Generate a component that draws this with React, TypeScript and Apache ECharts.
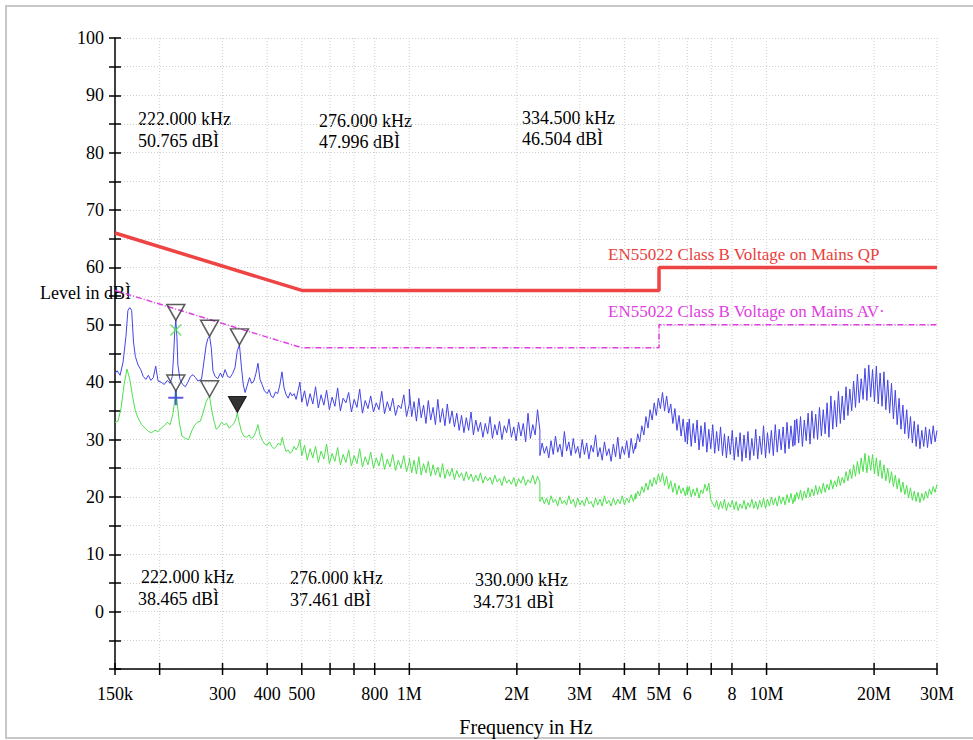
import React, { useEffect, useRef } from "react";
import * as echarts from "echarts";

// ---------- axis ticks ----------
const xTickValues = [150e3, 200e3, 300e3, 400e3, 500e3, 600e3, 700e3, 800e3, 1e6, 2e6, 3e6, 4e6, 5e6, 6e6, 7e6, 8e6, 10e6, 20e6, 30e6];
const xTickLabels = ["150k", "", "300", "400", "500", "", "", "800", "1M", "2M", "3M", "4M", "5M", "6", "", "8", "10M", "20M", "30M"];

// ---------- limit lines ----------
const qpFreq = [150e3, 500e3, 5e6, 5e6, 30e6];
const qpLevel = [66, 56, 56, 60, 60];
const avFreq = [150e3, 500e3, 5e6, 5e6, 30e6];
const avLevel = [56, 46, 46, 50, 50];

// ---------- measured traces: low band [kHz, dB] ----------
const blueLow = [
  [150, 41.5], [152, 42.0], [155, 41.2], [158, 43.5], [161, 48], [163, 52.5], [165, 53.0], [167, 52.5], [169, 47], [171, 44.5],
  [174, 43.0], [177, 42.2], [180, 41.0], [183, 40.5], [186, 41.2], [189, 40.3], [192, 40.8], [195, 42.8], [198, 40.2], [202, 40.0],
  [206, 39.6], [210, 40.3], [214, 39.8], [217, 41.0], [219, 45], [220.5, 49], [222, 50.8], [223.5, 48], [225, 43], [228, 40.5],
  [232, 39.6], [236, 39.2], [240, 40.0], [244, 41.0], [248, 41.3], [252, 40.8], [256, 40.2], [262, 40.5], [266, 43.5], [270, 46.5],
  [273, 47.6], [276, 48.0], [279, 46], [282, 42], [286, 41.0], [291, 40.6], [296, 41.6], [300, 40.8], [305, 42.2], [310, 41.0],
  [315, 40.8], [320, 41.5], [325, 42.5], [330, 45.5], [334.5, 46.5], [339, 42.5], [343, 39.5], [347, 38.2], [352, 39.5], [357, 40.8],
  [362, 39.8], [367, 40.2], [372, 41.5], [377, 43.3], [382, 40.5], [387, 39.6], [393, 38.5], [400, 38.0], [405, 38.7], [410, 37.6],
  [416, 37.3], [422, 38.3], [428, 38.0], [434, 39.5], [440, 41.8], [446, 39.0], [452, 37.8], [458, 37.2], [464, 38.2], [470, 37.6],
  [476, 38.0], [482, 37.0], [488, 38.5], [494, 40.0]
];
const greenLow = [
  [150, 33.0], [153, 33.2], [156, 35.5], [159, 39.5], [162, 42.3], [165, 40.5], [168, 37.5], [171, 35.0], [174, 33.8], [178, 32.6],
  [182, 32.0], [186, 31.4], [190, 31.2], [194, 31.6], [198, 31.4], [202, 32.0], [206, 32.4], [210, 33.0], [214, 32.6], [218, 34.5],
  [220.5, 37.0], [222, 38.5], [224, 36.5], [227, 33.0], [231, 30.6], [236, 30.2], [241, 30.0], [246, 31.5], [250, 32.4], [255, 33.0],
  [260, 33.2], [265, 34.8], [270, 36.6], [273, 37.2], [276, 37.5], [280, 35.0], [284, 33.2], [288, 31.8], [293, 32.2], [298, 33.0],
  [303, 32.6], [308, 32.8], [313, 32.0], [318, 32.4], [323, 32.8], [327, 33.6], [330, 34.7], [334, 33.0], [339, 31.4], [344, 30.6],
  [350, 30.4], [356, 30.8], [361, 30.2], [366, 30.4], [371, 31.2], [377, 32.6], [382, 30.8], [388, 29.8], [394, 29.2], [400, 29.0],
  [406, 29.6], [412, 28.8], [418, 28.4], [424, 28.8], [430, 29.4], [436, 29.0], [441, 30.4], [446, 29.0], [452, 27.9], [458, 28.2],
  [464, 27.6], [470, 28.0], [476, 28.8], [482, 28.2], [488, 28.8], [494, 30.0]
];

// ---------- measured traces: swept band, sweep edges in Hz ----------
const sweepEdges = [500e3, 1e6, 2.32e6, 4.3e6, 6e6, 12e6, 30e6];

const blueA = [36.5, 38.5, 35.8, 38.0, 36.2, 39.2, 35.5, 37.8, 36.0, 38.6, 35.2, 37.4, 35.8, 39.0, 35.0, 37.2, 36.4, 38.2, 34.8, 37.0, 35.6, 38.8, 34.6, 36.8, 35.4, 37.6, 34.8, 36.4, 35.2, 38.4, 34.5, 36.6, 35.0, 37.2, 34.2, 36.0, 35.4, 37.8, 34.0, 36.2];
const blueB = [38.8, 34.0, 36.6, 33.2, 37.2, 33.8, 36.0, 32.8, 36.8, 33.4, 35.6, 32.6, 37.0, 33.0, 35.4, 32.4, 36.2, 32.8, 35.0, 32.2, 34.6, 31.6, 34.2, 31.2, 33.8, 31.6, 34.8, 30.8, 33.4, 31.4, 33.0, 30.4, 32.8, 31.0, 34.0, 30.2, 32.6, 30.8, 33.2, 30.0, 32.4, 31.2, 33.6, 30.4, 32.2, 29.8, 33.0, 30.6, 32.8, 29.6, 34.6, 30.2, 32.6, 30.8, 35.2, 31.6];
const blueC = [27.2, 29.4, 27.6, 28.8, 26.8, 29.8, 27.4, 30.6, 27.8, 29.2, 27.0, 31.4, 28.0, 29.6, 27.2, 30.2, 27.6, 28.8, 26.8, 30.0, 27.4, 29.4, 26.6, 29.0, 27.8, 30.8, 27.0, 28.6, 26.4, 29.6, 27.2, 28.4, 26.2, 29.2, 27.0, 30.4, 26.6, 28.8, 27.4, 29.8, 26.8, 30.2, 27.6, 29.4];
const blueD = [28.4, 31.0, 29.6, 32.4, 30.8, 34.0, 32.0, 35.2, 33.4, 36.4, 34.2, 37.2, 35.4, 38.2, 35.0, 37.6, 34.6, 36.2, 32.8, 35.4, 31.6, 34.2, 30.6, 33.6, 29.6, 33.0];
const blueE = [29.2, 33.6, 28.8, 32.8, 29.4, 33.4, 28.2, 32.4, 28.8, 33.0, 27.8, 31.8, 28.4, 32.6, 27.6, 31.4, 28.0, 32.2, 27.2, 31.0, 26.8, 30.6, 27.4, 31.6, 26.4, 30.4, 27.0, 31.2, 26.2, 30.8, 26.8, 31.4, 26.4, 30.2, 27.2, 31.8, 26.6, 30.6, 27.4, 32.4, 26.8, 31.2, 27.6, 31.6, 27.2, 32.6, 27.8, 31.8, 28.2, 32.2, 27.6, 33.0, 28.4, 32.4, 28.8, 33.4];
const blueF = [29.0, 33.6, 29.4, 34.0, 28.8, 33.4, 29.8, 34.6, 29.2, 35.0, 30.2, 34.4, 30.0, 35.6, 30.6, 35.2, 31.0, 36.4, 30.4, 37.6, 31.8, 36.8, 32.2, 38.4, 32.8, 37.6, 33.4, 39.2, 34.2, 38.8, 35.0, 40.2, 35.6, 41.4, 36.4, 40.6, 37.0, 42.4, 36.8, 43.0, 37.4, 42.2, 36.6, 42.8, 36.2, 41.6, 35.8, 41.8, 35.2, 40.4, 34.6, 39.8, 33.6, 38.6, 32.6, 37.2, 31.8, 36.0, 31.0, 35.2, 30.2, 34.0, 29.4, 33.2, 28.8, 32.6, 28.4, 31.6, 28.8, 32.2, 28.6, 31.8, 29.2, 32.4, 29.6, 31.6];

const greenA = [27.2, 29.0, 26.4, 28.4, 26.8, 28.8, 26.0, 28.0, 26.6, 29.2, 25.8, 27.6, 26.2, 28.6, 25.6, 27.4, 26.0, 28.2, 25.4, 27.2, 25.8, 28.4, 25.2, 27.0, 25.6, 27.8, 25.0, 26.8, 25.4, 27.6, 24.8, 26.6, 25.2, 27.4, 24.6, 26.4, 25.0, 27.2, 24.4, 26.2];
const greenB = [26.8, 24.2, 26.4, 24.0, 27.0, 23.8, 25.8, 24.2, 26.2, 23.6, 25.6, 23.8, 25.2, 23.4, 25.8, 23.2, 24.8, 23.6, 25.0, 23.0, 24.6, 23.4, 24.2, 22.8, 24.4, 23.0, 24.0, 22.6, 23.8, 22.8, 24.2, 22.4, 23.6, 22.8, 23.4, 22.2, 23.8, 22.6, 23.2, 22.0, 23.6, 22.4, 23.0, 22.2, 23.4, 21.8, 23.2, 22.4, 23.6, 22.0, 23.0, 22.4, 23.8, 22.2, 23.6, 22.6];
const greenC = [19.2, 20.0, 18.8, 19.8, 18.6, 20.2, 19.0, 19.6, 18.4, 20.0, 18.8, 19.4, 18.6, 20.2, 18.8, 19.6, 18.2, 19.8, 18.6, 19.4, 18.4, 20.0, 18.8, 19.2, 18.2, 19.8, 18.6, 19.6, 18.4, 20.2, 18.8, 19.4, 18.4, 19.8, 18.6, 19.6, 18.8, 20.2, 18.6, 19.8, 19.0, 20.4, 19.2, 20.6];
const greenD = [19.6, 21.0, 20.2, 21.8, 20.8, 22.4, 21.2, 23.0, 21.8, 23.4, 22.2, 24.0, 22.6, 24.2, 22.0, 23.6, 21.4, 22.8, 20.8, 22.4, 20.4, 22.0, 20.6, 21.6, 20.2, 21.8];
const greenE = [20.4, 21.8, 20.0, 21.4, 20.2, 21.6, 19.8, 21.2, 20.6, 22.2, 21.0, 22.4, 19.6, 18.8, 18.2, 19.4, 17.8, 19.2, 18.0, 19.6, 17.6, 19.0, 18.2, 19.4, 17.8, 19.2, 17.6, 18.8, 18.0, 19.4, 17.8, 19.0, 18.2, 19.6, 18.0, 19.2, 17.8, 19.4, 18.2, 19.8, 18.0, 19.6, 18.4, 20.0, 18.6, 19.8, 18.4, 20.2, 18.8, 20.0, 18.6, 20.4, 19.0, 20.6, 18.8, 20.4];
const greenF = [19.2, 20.8, 19.6, 21.2, 19.4, 21.0, 19.8, 21.6, 20.0, 21.4, 20.2, 22.0, 20.4, 21.8, 20.6, 22.4, 20.8, 22.2, 21.2, 23.0, 21.4, 22.8, 21.8, 23.6, 22.0, 23.4, 22.4, 24.4, 22.8, 24.8, 23.2, 25.6, 23.6, 26.2, 24.0, 26.8, 24.4, 27.6, 24.2, 27.2, 24.6, 27.4, 24.0, 26.8, 23.6, 26.4, 23.2, 25.6, 22.8, 25.0, 22.4, 24.4, 21.8, 23.8, 21.4, 23.2, 20.8, 22.6, 20.4, 22.0, 19.8, 21.6, 19.4, 21.0, 19.2, 20.8, 19.0, 20.6, 19.4, 21.0, 19.8, 21.4, 20.4, 21.8, 20.8, 22.2];

// ---------- markers ----------
const qpMarkFreq = [222e3, 276e3, 334.5e3];
const qpMarkLevel = [50.765, 47.996, 46.504];
const avMarkFreq = [222e3, 276e3];
const avMarkLevel = [38.465, 37.461];
const avActiveFreq = [330e3];
const avActiveLevel = [34.731];
const crossFreq = [222e3];
const crossGreenLevel = [49.1];
const crossBlueLevel = [37.3];

// ---------- annotation texts ----------
const topNotes = [
  ["222.000 kHz", "50.765 dBÌ"],
  ["276.000 kHz", "47.996 dBÌ"],
  ["334.500 kHz", "46.504 dBÌ"]
];
const bottomNotes = [
  ["222.000 kHz", "38.465 dBÌ"],
  ["276.000 kHz", "37.461 dBÌ"],
  ["330.000 kHz", "34.731 dBÌ"]
];

const FONT = "'Liberation Serif', 'Times New Roman', serif";

function buildTrace(low: number[][], segs: number[][]) {
  const pts: number[][] = low.map(([k, v]) => [k * 1e3, v]);
  segs.forEach((vals, s) => {
    const f0 = sweepEdges[s];
    const f1 = sweepEdges[s + 1];
    const n = vals.length;
    vals.forEach((v, i) => {
      pts.push([f0 * Math.pow(f1 / f0, i / (n - 1)), v]);
    });
  });
  return pts;
}

const zip = (a: number[], b: number[]) => a.map((v, i) => [v, b[i]]);

export default function App() {
  const ref = useRef<HTMLDivElement>(null);

  useEffect(() => {
    document.body.style.margin = "0";
    if (!ref.current) return;
    const chart = echarts.init(ref.current, undefined, { renderer: "svg" });

    const blue = buildTrace(blueLow, [blueA, blueB, blueC, blueD, blueE, blueF]);
    const green = buildTrace(greenLow, [greenA, greenB, greenC, greenD, greenE, greenF]);

    const textStyle = (t: string, fill = "#000", size = 18) => ({
      text: t,
      fill,
      fontSize: size,
      fontFamily: FONT,
      verticalAlign: "middle",
      align: "left"
    });

    const noteGraphics: any[] = [];
    const topPos = [[138, 119, 141], [319, 121, 142], [522, 118, 139]];
    topNotes.forEach((n, i) => {
      const [x, y1, y2] = topPos[i];
      noteGraphics.push({ type: "text", x, y: y1, style: textStyle(n[0]) });
      noteGraphics.push({ type: "text", x, y: y2, style: textStyle(n[1]) });
    });
    const botPos = [[141, 138, 577, 599], [290, 290, 578, 600], [475, 473, 580, 602]];
    bottomNotes.forEach((n, i) => {
      const [x1, x2, y1, y2] = botPos[i];
      noteGraphics.push({ type: "text", x: x1, y: y1, style: textStyle(n[0]) });
      noteGraphics.push({ type: "text", x: x2, y: y2, style: textStyle(n[1]) });
    });

    const option: any = {
      animation: false,
      backgroundColor: "#fff",
      grid: { left: 115, right: 36, top: 38, bottom: 71, outerBoundsMode: "none", containLabel: false },
      xAxis: {
        type: "log",
        logBase: 10,
        min: 150e3,
        max: 30e6,
        name: "Frequency in Hz",
        nameLocation: "middle",
        nameGap: 48,
        nameTextStyle: { fontFamily: FONT, fontSize: 20, color: "#000" },
        axisLine: { show: true, onZero: false, lineStyle: { color: "#000", width: 1.5 } },
        axisTick: { show: false },
        axisLabel: { show: false },
        splitLine: { show: false },
        minorTick: { show: false },
        minorSplitLine: { show: false }
      },
      yAxis: [
        {
          type: "value",
          min: -10,
          max: 100,
          interval: 5,
          axisLine: { show: true, onZero: false, lineStyle: { color: "#000", width: 1.5 } },
          axisTick: { show: true, length: 6, lineStyle: { color: "#000", width: 1.5 } },
          axisLabel: {
            margin: 11,
            fontFamily: FONT,
            fontSize: 18,
            color: "#000",
            formatter: (v: number) => (v >= 0 && v % 10 === 0 ? String(v) : "")
          },
          splitLine: { show: true, lineStyle: { color: "#cfcfcf", width: 1, type: [1, 2] } }
        },
        {
          type: "value",
          min: -10,
          max: 100,
          interval: 5,
          position: "left",
          axisLine: { show: false, onZero: false },
          axisTick: { show: true, inside: true, length: 6, lineStyle: { color: "#000", width: 1.5 } },
          axisLabel: { show: false },
          splitLine: { show: false }
        }
      ],
      graphic: [
        {
          type: "rect",
          shape: { x: 6, y: 6, width: 1000, height: 732 },
          style: { fill: "none", stroke: "#c8c8c8", lineWidth: 2 },
          silent: true
        },
        { type: "text", x: 40, y: 293, style: textStyle("Level in dBÌ") },
        { type: "text", x: 608, y: 254, style: textStyle("EN55022 Class B Voltage on Mains QP", "#e8403c", 17) },
        { type: "text", x: 608, y: 311, style: textStyle("EN55022 Class B Voltage on Mains AV·", "#e040e0", 17) },
        ...noteGraphics
      ],
      series: [
        {
          type: "custom",
          name: "xticks",
          silent: true,
          clip: false,
          z: 1,
          data: xTickValues.map((v) => [v, -10]),
          encode: { x: 0, y: 1 },
          renderItem: (params: any, api: any) => {
            const f = api.value(0);
            const i = params.dataIndex;
            const top = api.coord([f, 100]);
            const bot = api.coord([f, -10]);
            const children: any[] = [];
            if (i > 0) {
              children.push({
                type: "line",
                shape: { x1: bot[0], y1: bot[1], x2: top[0], y2: top[1] },
                style: { stroke: "#cfcfcf", lineWidth: 1, lineDash: [1, 2] }
              });
            }
            children.push({
              type: "line",
              shape: { x1: bot[0], y1: bot[1] - 6, x2: bot[0], y2: bot[1] + 6 },
              style: { stroke: "#000", lineWidth: 1.5 }
            });
            children.push({
              type: "text",
              x: bot[0],
              y: bot[1] + 25,
              style: {
                text: xTickLabels[i],
                fill: "#000",
                fontSize: 18,
                fontFamily: FONT,
                align: "center",
                verticalAlign: "middle"
              }
            });
            return { type: "group", children };
          }
        },
        {
          type: "line",
          name: "AV limit",
          data: zip(avFreq, avLevel),
          showSymbol: false,
          symbol: "none",
          z: 3,
          lineStyle: { color: "#e040e0", width: 1.5, type: [6, 2, 1, 2] }
        },
        {
          type: "line",
          name: "QP limit",
          data: zip(qpFreq, qpLevel),
          showSymbol: false,
          symbol: "none",
          z: 3,
          lineStyle: { color: "#ee4444", width: 3.5 }
        },
        {
          type: "line",
          name: "AV trace",
          data: green,
          showSymbol: false,
          symbol: "none",
          z: 4,
          lineStyle: { color: "#4ee04e", width: 1 }
        },
        {
          type: "line",
          name: "Peak trace",
          data: blue,
          showSymbol: false,
          symbol: "none",
          z: 4,
          lineStyle: { color: "#4444e6", width: 1 }
        },
        {
          type: "scatter",
          name: "QP marks",
          data: zip(qpMarkFreq, qpMarkLevel),
          symbol: "path://M0,0L20,0L10,18Z",
          symbolSize: [18, 16],
          symbolOffset: [0, -8],
          z: 6,
          itemStyle: { color: "rgba(255,255,255,0)", borderColor: "#333", borderWidth: 1.5 }
        },
        {
          type: "scatter",
          name: "AV marks",
          data: zip(avMarkFreq, avMarkLevel),
          symbol: "path://M0,0L20,0L10,18Z",
          symbolSize: [18, 16],
          symbolOffset: [0, -8],
          z: 6,
          itemStyle: { color: "rgba(255,255,255,0)", borderColor: "#333", borderWidth: 1.5 }
        },
        {
          type: "scatter",
          name: "AV active mark",
          data: zip(avActiveFreq, avActiveLevel),
          symbol: "path://M0,0L20,0L10,18Z",
          symbolSize: [18, 16],
          symbolOffset: [0, -8],
          z: 6,
          itemStyle: { color: "#000", borderColor: "#000", borderWidth: 1 }
        },
        {
          type: "scatter",
          name: "green cross",
          data: zip(crossFreq, crossGreenLevel),
          symbol: "path://M0,0L10,10M10,0L0,10",
          symbolSize: 11,
          z: 5,
          itemStyle: { color: "rgba(0,0,0,0)", borderColor: "#4ee04e", borderWidth: 1.5 }
        },
        {
          type: "scatter",
          name: "blue plus",
          data: zip(crossFreq, crossBlueLevel),
          symbol: "path://M5,0L5,10M0,5L10,5",
          symbolSize: 15,
          z: 5,
          itemStyle: { color: "rgba(0,0,0,0)", borderColor: "#3030e0", borderWidth: 2 }
        }
      ]
    };

    chart.setOption(option);
    return () => chart.dispose();
  }, []);

  return <div ref={ref} style={{ width: 973, height: 740 }} />;
}
